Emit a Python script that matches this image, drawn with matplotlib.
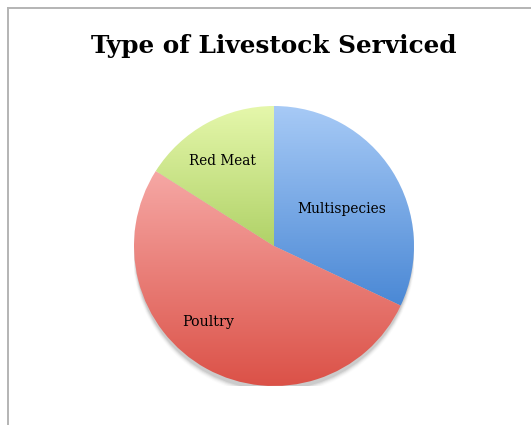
import numpy as np
import matplotlib
matplotlib.use("Agg")
import matplotlib.pyplot as plt
from matplotlib.colors import LinearSegmentedColormap
from matplotlib.lines import Line2D
from matplotlib.patches import Circle

title = "Type of Livestock Serviced"
categories = ["Multispecies", "Poultry", "Red Meat"]
values = [32, 52, 16]
top_colors = ["#a7caf6", "#f6a8a5", "#e5f7ab"]
bottom_colors = ["#4a88d5", "#db5147", "#b0d268"]

W, H = 531, 425
fig = plt.figure(figsize=(W / 100, H / 100), dpi=100)
fig.patch.set_facecolor("white")
FAM = ["DejaVu Serif"]

fig.add_artist(Line2D([8 / W, 1.0], [1 - 8 / H, 1 - 8 / H], transform=fig.transFigure,
                      color="#b4b4b4", lw=1.4))
fig.add_artist(Line2D([8 / W, 8 / W], [0, 1 - 8 / H], transform=fig.transFigure,
                      color="#b4b4b4", lw=1.4))

renderer = fig.canvas.get_renderer()

def fit(t, target_w):
    bb = t.get_window_extent(renderer)
    t.set_fontsize(t.get_fontsize() * target_w / bb.width)

tt = fig.text(274 / W, 1 - 46 / H, title, ha="center", va="center",
              fontsize=20, fontweight="bold", family=FAM)
fit(tt, 366)

ax = fig.add_axes([134 / W, (H - 386) / H, 280 / W, 280 / H])
ax.set_xlim(-1, 1)
ax.set_ylim(-1, 1)
ax.set_aspect("equal")
ax.axis("off")

for i, a in enumerate(np.linspace(0.07, 0.015, 5)):
    ax.add_patch(Circle((0, -0.035 - 0.004 * i), 0.995 + 0.004 * i, color="black",
                        alpha=a, lw=0, zorder=0))

wedges, texts = ax.pie(values, startangle=90, counterclock=False, radius=1.0,
                       wedgeprops=dict(linewidth=0))
for t in texts:
    t.set_visible(False)

fig.canvas.draw()
for w, c0, c1 in zip(wedges, top_colors, bottom_colors):
    w.set_facecolor("none")
    verts = w.get_patch_transform().transform(w.get_path().vertices)
    y0, y1 = verts[:, 1].min(), verts[:, 1].max()
    cmap = LinearSegmentedColormap.from_list("g", [c1, c0])
    grad = np.linspace(0, 1, 256).reshape(-1, 1)
    im = ax.imshow(grad, cmap=cmap, origin="lower", extent=[-1, 1, y0, y1],
                   aspect="auto", zorder=2, interpolation="bilinear")
    im.set_clip_path(w)

ax.set_xlim(-1, 1)
ax.set_ylim(-1, 1)

def px(x, y):
    return ((x - 274) / 140, (246 - y) / 140)

label_pos = {"Multispecies": (342, 209), "Poultry": (208, 322), "Red Meat": (222, 161)}
label_w = {"Multispecies": 89, "Poultry": 52, "Red Meat": 67}
for cat in categories:
    x, y = px(*label_pos[cat])
    t = ax.text(x, y, cat, ha="center", va="center", fontsize=10, color="black",
                family=FAM, zorder=5)
    fit(t, label_w[cat])

fig.savefig("out.png", dpi=100, facecolor="white")
